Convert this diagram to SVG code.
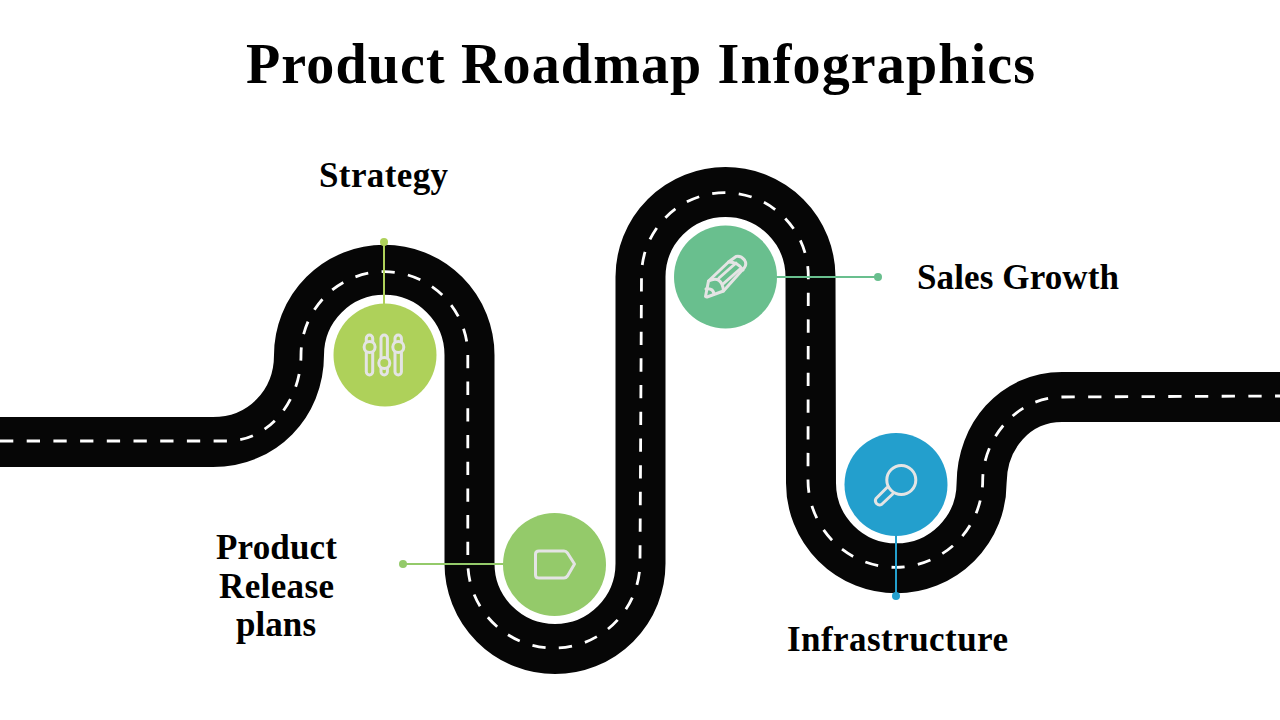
<svg xmlns="http://www.w3.org/2000/svg" width="1280" height="720" viewBox="0 0 1280 720">
<style>
text{font-family:"Liberation Serif","DejaVu Serif",serif;font-weight:700;fill:#000;text-anchor:middle}
.t{font-size:56px}
.l{font-size:35px}
.road{fill:none;stroke:#060606;stroke-width:50}
.dash{fill:none;stroke:#fff;stroke-width:2.800;stroke-dasharray:13.300 13.400}
.ic{stroke:#e4e4e4;stroke-width:3;stroke-linejoin:round;stroke-linecap:round;fill:none}
</style>
<rect width="1280" height="720" fill="#fff"/>
<text class="t" x="640.500" y="83" textLength="789">Product Roadmap Infographics</text>
<g id="connectors">
<path id="road" class="road" d="M0 442H213C262 442 299 404 299 355A85 85 0 0 1 469.500 355V563.500A85 85 0 0 0 640.500 563.500V277A85 85 0 0 1 810.500 277L811 483A85 85 0 0 0 981.600 483C982 436 1015 397 1062 397H1280"/>
<path id="road-dash" class="dash" d="M0 441H227C270 441 301 400 301 355A83 83 0 0 1 467.800 355V562A85 85 0 0 0 640 562L641.500 276A83 83 0 0 1 808.300 276L808 480A87 87 0 0 0 982.700 480C983 440 1015 397 1063 397L1280 396"/>
<path d="M384 242V310" stroke="#aed15a" stroke-width="2" fill="none"/><circle cx="384" cy="242" r="4" fill="#aed15a"/>
<path d="M403 564H510" stroke="#94ca6a" stroke-width="2" fill="none"/><circle cx="403" cy="564" r="4" fill="#94ca6a"/>
<path d="M770 277H878" stroke="#69bf8e" stroke-width="2" fill="none"/><circle cx="878" cy="277" r="4" fill="#69bf8e"/>
<path d="M896 530V596" stroke="#239fcd" stroke-width="2" fill="none"/><circle cx="896" cy="596" r="4" fill="#239fcd"/>
</g>
<g id="node-strategy">
<circle cx="385" cy="355" r="51.500" fill="#aed15a"/>
<g class="ic">
<rect x="366.300" y="335" width="6.400" height="40" rx="3.200"/><circle cx="369.600" cy="347" r="5.500" fill="#aed15a"/>
<rect x="381" y="335" width="6.400" height="40" rx="3.200"/><circle cx="384.300" cy="363" r="5.500" fill="#aed15a"/>
<rect x="395" y="335" width="6.400" height="40" rx="3.200"/><circle cx="398.300" cy="347" r="5.500" fill="#aed15a"/>
</g>
<text class="l" x="383.500" y="187" textLength="129">Strategy</text>
</g>
<g id="node-release">
<circle cx="554.500" cy="564.500" r="51.500" fill="#94ca6a"/>
<path class="ic" d="M539 551H564Q566 551 567.500 553L574.500 564L567.500 576Q566 578 564 578H539Q535.500 578 535.500 575V554Q535.500 551 539 551Z"/>
<text class="l" x="276.500" y="559" textLength="121">Product</text>
<text class="l" x="276.500" y="598" textLength="115">Release</text>
<text class="l" x="276" y="636" textLength="80">plans</text>
</g>
<g id="node-sales">
<circle cx="725.500" cy="277" r="51.500" fill="#69bf8e"/>
<g class="ic">
<path d="M705.500 296.500L708.500 281L728.500 262L736 256.500Q741 255.500 744.500 260Q747 264 744.500 267.500L723.500 291L707 297Z"/>
<path d="M708.500 281Q722 275 723.500 291M719 278L736 263M723 284L740 269M728.500 262Q738 262 743 270M706 289Q713 288 714 294"/>
</g>
<text class="l" x="1018" y="289" textLength="202">Sales Growth</text>
</g>
<g id="node-infrastructure">
<circle cx="896" cy="484.500" r="51.500" fill="#239fcd"/>
<g class="ic">
<circle cx="901.300" cy="480" r="14.500"/>
<path d="M887 487.500L876 498.500Q874.500 501 876.500 503.500Q879 506 881.500 504.500L892.700 494"/>
</g>
<text class="l" x="897.500" y="651" textLength="221">Infrastructure</text>
</g>
</svg>
